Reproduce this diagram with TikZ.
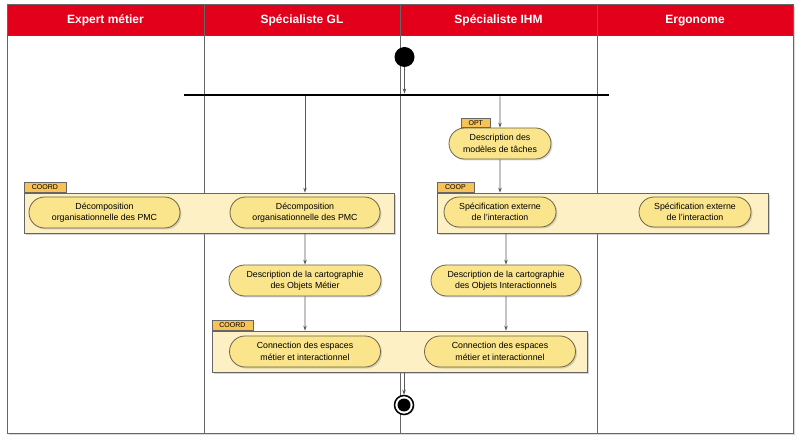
\documentclass[tikz,border=0pt]{standalone}
\usepackage{fontspec}
\setmainfont{Liberation Sans}
\usepackage{tikz}
\usetikzlibrary{arrows.meta,shapes.misc,shadows,calc}

\definecolor{lanered}{RGB}{226,0,26}
\definecolor{groupfill}{RGB}{253,240,196}
\definecolor{actfill}{RGB}{250,229,140}
\definecolor{actdraw}{RGB}{110,100,70}
\definecolor{tabfill}{RGB}{248,195,86}

\tikzset{
  lanehead/.style={text=white, font=\fontsize{12}{13}\selectfont\bfseries},
  group/.style={draw=black!60, fill=groupfill, line width=0.8pt,
    drop shadow={opacity=0.35, shadow xshift=2pt, shadow yshift=-2pt}},
  grouptab/.style={draw=black!60, fill=tabfill, line width=0.6pt, anchor=south west,
    minimum height=9.5pt, inner sep=0pt, font=\fontsize{7}{7.5}\selectfont},
  activity/.style={rounded rectangle, draw=actdraw, fill=actfill, line width=0.8pt,
    minimum height=31pt, inner sep=1pt, align=center,
    font=\fontsize{8.8}{11.5}\selectfont,
    drop shadow={opacity=0.3, shadow xshift=1.5pt, shadow yshift=-1.5pt}},
  flow/.style={draw=black!65, line width=0.7pt, -{Stealth[length=5pt,width=3.5pt]}}
}

\begin{document}
\begin{tikzpicture}[x=1pt,y=-1pt]
      \useasboundingbox (0,0) rectangle (800,443);

      %%swimlanes
      \draw [black!60, line width=1pt, fill=white,
        drop shadow={opacity=0.3, shadow xshift=2pt, shadow yshift=-2pt}] (7,5) rectangle (793,433);
      \fill [lanered] (7,5) rectangle (793,35);
      \draw [black!60, line width=1pt] (7,5) rectangle (793,433);
      \draw [black!70, line width=0.8pt] (7,35) -- (793,35);
      \foreach \x in {204,400,597}
        \draw [black!60, line width=0.8pt] (\x,5) -- (\x,433);

      \node [lanehead] (hexpert) at (105.5,20.5) {Expert métier};
      \node [lanehead] (hgl) at (302,20.5) {Spécialiste GL};
      \node [lanehead] (hihm) at (498.5,20.5) {Spécialiste IHM};
      \node [lanehead] (hergo) at (695,20.5) {Ergonome};

      %%start and fork
      \node [circle, fill=black, minimum size=20pt, inner sep=0pt] (start) at (404.5,57) {};
      \node [fill=black, minimum width=425pt, minimum height=2.5pt, inner sep=0pt] (fork) at (396.5,95) {};

      %%groups
      \node [group, minimum width=370pt, minimum height=40pt] (gcoordA) at (209,213) {};
      \node [grouptab, minimum width=42pt] (tcoordA) at (gcoordA.north west) {COORD};
      \node [group, minimum width=331pt, minimum height=40pt] (gcoop) at (602.5,213) {};
      \node [grouptab, minimum width=37pt] (tcoop) at (gcoop.north west) {COOP};
      \node [group, minimum width=375pt, minimum height=41pt] (gcoordB) at (399.5,351.5) {};
      \node [grouptab, minimum width=41pt] (tcoordB) at (gcoordB.north west) {COORD};

      %%activities
      \node [activity, minimum width=153pt] (decA) at (104.5,212.5) {Décomposition\\organisationnelle des PMC};
      \node [activity, minimum width=152pt] (decB) at (305,212.5) {Décomposition\\organisationnelle des PMC};
      \node [activity, minimum width=104pt] (taches) at (500,143.5) {Description des\\modèles de tâches};
      \node [grouptab, minimum width=29pt, minimum height=9pt] (topt) at (461,128) {OPT};
      \node [activity, minimum width=114pt, minimum height=30pt] (specA) at (500,212) {Spécification externe\\de l'interaction};
      \node [activity, minimum width=114pt, minimum height=30pt] (specB) at (695,212) {Spécification externe\\de l'interaction};
      \node [activity, minimum width=154pt] (cartoA) at (305,280.5) {Description de la cartographie\\des Objets Métier};
      \node [activity, minimum width=152pt] (cartoB) at (506,280.5) {Description de la cartographie\\des Objets Interactionnels};
      \node [activity, minimum width=153pt] (connA) at (305,351.5) {Connection des espaces\\métier et interactionnel};
      \node [activity, minimum width=153pt] (connB) at (500,351.5) {Connection des espaces\\métier et interactionnel};

      %%end
      \node [circle, draw=black, line width=1.5pt, fill=white, minimum size=19pt, inner sep=0pt,
        drop shadow={opacity=0.3, shadow xshift=1pt, shadow yshift=-1pt}] (stop) at (404,405) {};
      \node [circle, fill=black, minimum size=13pt, inner sep=0pt] (stopin) at (stop) {};

      %%flows
      \draw [flow] (start) -- (start |- fork.north);
      \draw [flow] (fork.south -| decB) -- (gcoordA.north -| decB);
      \draw [flow] (fork.south -| taches) -- (taches);
      \draw [flow] (taches) -- (gcoop.north -| taches);
      \draw [flow] (gcoordA.south -| cartoA) -- (cartoA);
      \draw [flow] (gcoop.south -| cartoB) -- (cartoB);
      \draw [flow] (cartoA) -- (gcoordB.north -| cartoA);
      \draw [flow] (cartoB) -- (gcoordB.north -| cartoB);
      \draw [flow] (gcoordB.south -| stop) -- (stop);

\end{tikzpicture}
\end{document}
